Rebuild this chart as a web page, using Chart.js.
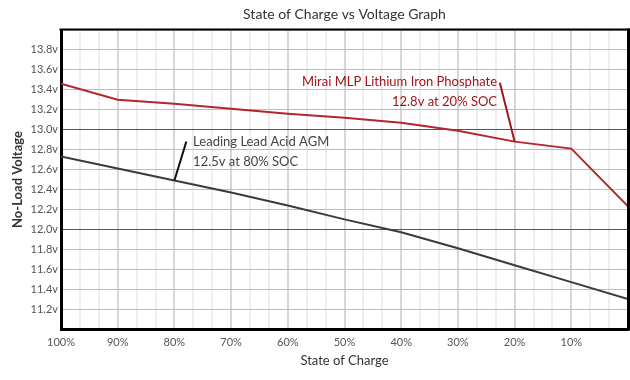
<!DOCTYPE html>
<html>
<head>
<meta charset="utf-8">
<script src="https://cdn.jsdelivr.net/npm/chart.js@4/dist/chart.umd.min.js"></script>
<style>
  html, body { margin: 0; padding: 0; background: #fff; }
  #wrap { width: 630px; height: 380px; }
</style>
</head>
<body>
<div id="wrap"><canvas id="c" width="630" height="380"></canvas></div>
<script>
// ---- data ----
const stateOfCharge = [100, 90, 80, 70, 60, 50, 40, 30, 20, 10, 0];
const lithiumVoltage = [13.46, 13.30, 13.26, 13.21, 13.16, 13.12, 13.07, 12.99, 12.88, 12.81, 12.23];
const agmVoltage = [12.73, 12.61, 12.49, 12.37, 12.24, 12.10, 11.97, 11.81, 11.64, 11.47, 11.30];
const seriesNames = ["Mirai MLP Lithium Iron Phosphate", "Leading Lead Acid AGM"];
const voltageTicks = [11.2, 11.4, 11.6, 11.8, 12.0, 12.2, 12.4, 12.6, 12.8, 13.0, 13.2, 13.4, 13.6, 13.8];
const socTickLabels = ["100%", "90%", "80%", "70%", "60%", "50%", "40%", "30%", "20%", "10%"];

const FONT = "Lato, 'Open Sans', sans-serif";
const RED = '#b3262c';
const RED_TEXT = '#a0141a';

function near(a, b) { return Math.abs(a - b) < 1e-6; }

const annotationPlugin = {
  id: 'annot',
  afterDatasetsDraw(chart) {
    const ctx = chart.ctx;
    const xs = chart.scales.x, ys = chart.scales.y;
    const px = v => xs.getPixelForValue(v), py = v => ys.getPixelForValue(v);
    ctx.save();
    // callout lines
    ctx.lineWidth = 2;
    ctx.strokeStyle = '#a0141a';
    ctx.beginPath();
    ctx.moveTo(px(22.6), py(13.47));
    ctx.lineTo(px(stateOfCharge[8]), py(lithiumVoltage[8]));
    ctx.stroke();
    ctx.strokeStyle = '#111';
    ctx.beginPath();
    ctx.moveTo(px(77.9), py(12.88));
    ctx.lineTo(px(stateOfCharge[2]), py(agmVoltage[2]));
    ctx.stroke();
    // texts
    ctx.font = "13px " + FONT;
    ctx.textBaseline = 'middle';
    ctx.fillStyle = RED_TEXT;
    ctx.textAlign = 'right';
    ctx.fillText(seriesNames[0], px(23.1), py(13.48));
    ctx.fillText("12.8v at 20% SOC", px(23.1), py(13.28));
    ctx.fillStyle = '#444';
    ctx.textAlign = 'left';
    ctx.fillText(seriesNames[1], px(76.7), py(12.88));
    ctx.fillText("12.5v at 80% SOC", px(76.7), py(12.68));
    ctx.restore();
  },
  afterDraw(chart) {
    const ctx = chart.ctx;
    const a = chart.chartArea;
    ctx.save();
    ctx.strokeStyle = '#000';
    ctx.lineWidth = 2;
    ctx.beginPath();
    ctx.moveTo(a.left - 1.5, a.top - 0.5);
    ctx.lineTo(630, a.top - 0.5);
    ctx.stroke();
    ctx.lineWidth = 3;
    ctx.beginPath();
    ctx.moveTo(a.right + 0.5, a.top - 1.5);
    ctx.lineTo(a.right + 0.5, a.bottom + 1.5);
    ctx.stroke();
    ctx.restore();
  }
};

new Chart(document.getElementById('c'), {
  type: 'line',
  data: {
    datasets: [
      {
        label: seriesNames[0],
        data: stateOfCharge.map((s, i) => ({ x: s, y: lithiumVoltage[i] })),
        borderColor: RED,
        borderWidth: 2,
        pointRadius: 0,
        tension: 0,
        fill: false
      },
      {
        label: seriesNames[1],
        data: stateOfCharge.map((s, i) => ({ x: s, y: agmVoltage[i] })),
        borderColor: '#3a3a3a',
        borderWidth: 2,
        pointRadius: 0,
        tension: 0,
        fill: false
      }
    ]
  },
  options: {
    responsive: false,
    animation: false,
    devicePixelRatio: 1,
    layout: { padding: { right: 2, left: 0, top: 0, bottom: 0 } },
    plugins: {
      legend: { display: false },
      tooltip: { enabled: false },
      title: {
        display: true,
        text: 'State of Charge vs Voltage Graph',
        color: '#333',
        fullSize: false,
        font: { family: FONT, size: 14, weight: 'normal', lineHeight: 1.2 },
        padding: { top: 6.5, bottom: 6.7 }
      }
    },
    scales: {
      x: {
        type: 'linear',
        min: 0,
        max: 100,
        reverse: true,
        afterBuildTicks(scale) {
          const t = [];
          for (let i = 0; i <= 30; i++) t.push({ value: i * 10 / 3 });
          scale.ticks = t;
        },
        afterFit(scale) { scale.height = 51; },
        border: { display: true, color: '#000', width: 3 },
        grid: {
          drawTicks: false,
          color(ctx) {
            const v = ctx.tick ? ctx.tick.value : 0;
            const r = Math.round(v);
            return (near(v, r) && r % 10 === 0) ? '#d6d6d6' : '#eeeeee';
          },
          lineWidth: 2
        },
        ticks: {
          autoSkip: false,
          maxRotation: 0,
          padding: 7,
          color: '#555',
          font: { family: FONT, size: 11 },
          callback(value) {
            const r = Math.round(value);
            if (!near(value, r) || r % 10 !== 0 || r === 0) return '';
            return socTickLabels[(100 - r) / 10];
          }
        },
        title: {
          display: true,
          text: 'State of Charge',
          color: '#333',
          font: { family: FONT, size: 13 },
          padding: { top: 0, bottom: 11 }
        }
      },
      y: {
        type: 'linear',
        min: 11,
        max: 14,
        afterBuildTicks(scale) {
          scale.ticks = [{ value: 11 }].concat(voltageTicks.map(v => ({ value: v })), [{ value: 14 }]);
        },
        afterFit(scale) { scale.width = 61; },
        border: { display: true, color: '#000', width: 3 },
        grid: {
          drawTicks: false,
          color(ctx) {
            const v = ctx.tick ? ctx.tick.value : 0;
            return (near(v, 13) || near(v, 12)) ? '#555' : '#bdbdbd';
          },
          lineWidth: 1
        },
        ticks: {
          autoSkip: false,
          padding: 3,
          color: '#555',
          font: { family: FONT, size: 11 },
          callback(value) {
            if (near(value, 11) || near(value, 14)) return '';
            return value.toFixed(1) + 'v';
          }
        },
        title: {
          display: true,
          text: 'No-Load Voltage',
          color: '#333',
          font: { family: FONT, size: 13, weight: 'bold' },
          padding: { top: 10, bottom: 0 }
        }
      }
    }
  },
  plugins: [annotationPlugin]
});
</script>
</body>
</html>
